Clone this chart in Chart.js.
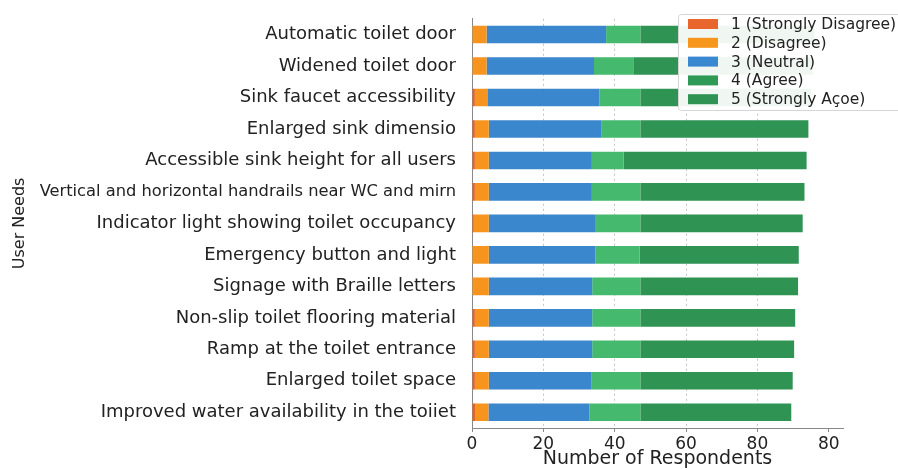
<!DOCTYPE html>
<html>
<head>
<meta charset="utf-8">
<script src="https://cdn.jsdelivr.net/npm/chart.js@4.4.1/dist/chart.umd.min.js"></script>
<style>
  html, body { margin: 0; padding: 0; background: #fff; }
  #wrap { width: 898px; height: 470px; }
</style>
</head>
<body>
<div id="wrap"><canvas id="needsChart" width="898" height="470"></canvas></div>
<script>
// === Data ===
const needs = [
  'Automatic toilet door',
  'Widened toilet door',
  'Sink faucet accessibility',
  'Enlarged sink dimensio',
  'Accessible sink height for all users',
  'Vertical and horizontal handrails near WC and mirn',
  'Indicator light showing toilet occupancy',
  'Emergency button and light',
  'Signage with Braille letters',
  'Non-slip toilet flooring material',
  'Ramp at the toilet entrance',
  'Enlarged toilet space',
  'Improved water availability in the toiiet'
];
const seriesNames = ['1 (Strongly Disagree)', '2 (Disagree)', '3 (Neutral)', '4 (Agree)', '5 (Strongly Açoe)'];

const stronglyDisagree = [0, 0, 0.8, 0.8, 0.8, 0.8, 0.5, 0, 0, 0.8, 0.8, 0.8, 1.0];
const disagree         = [4.1, 4.1, 3.5, 3.9, 3.9, 3.9, 4.2, 4.7, 4.7, 3.9, 3.9, 3.9, 3.6];
const neutral          = [33.5, 30.1, 31.4, 31.5, 28.9, 28.9, 30.0, 29.9, 29.0, 29.0, 29.0, 28.7, 28.3];
const agree            = [9.6, 11.2, 11.5, 11.0, 8.9, 13.6, 12.5, 12.4, 13.5, 13.5, 13.5, 13.8, 14.3];
const stronglyAgree    = [48.8, 50.1, 47.8, 47.1, 51.3, 46.0, 45.5, 44.6, 44.2, 43.4, 43.1, 42.7, 42.3];

const xTickLabels = ['0', '20', '40', '60', '80', '80'];

// === Styles ===
const barColors    = ['#e2622b', '#f7941e', '#3a87cd', '#45ba6e', '#2e9353'];
const legendColors = ['#e8652d', '#f7961c', '#3a88d0', '#2f9a55', '#2e9353'];
const FONT = "'DejaVu Sans', sans-serif";

const seriesValues = [stronglyDisagree, disagree, neutral, agree, stronglyAgree];

const datasets = seriesValues.map((vals, i) => ({
  label: seriesNames[i],
  data: vals,
  backgroundColor: barColors[i],
  borderWidth: 0,
  barPercentage: 0.56,
  categoryPercentage: 1
}));

// === Legend drawn inside the plot, top right ===
const boxLegend = {
  id: 'boxLegend',
  afterDraw(chart) {
    const c = chart.ctx;
    c.save();
    c.beginPath();
    c.roundRect(678.5, 14.5, 226, 96, 3);
    c.fillStyle = 'rgba(255,255,255,0.93)';
    c.fill();
    c.strokeStyle = '#d6d6d6';
    c.lineWidth = 1;
    c.stroke();
    c.font = '15.5px ' + FONT;
    c.textBaseline = 'middle';
    c.textAlign = 'left';
    chart.data.datasets.forEach((ds, i) => {
      const y = 24 + i * 18.8;
      c.fillStyle = legendColors[i];
      c.fillRect(688, y - 5, 30, 10);
      c.fillStyle = '#222';
      c.fillText(ds.label, 731, y + 1);
    });
    c.restore();
  }
};

new Chart(document.getElementById('needsChart'), {
  type: 'bar',
  data: { labels: needs, datasets },
  options: {
    indexAxis: 'y',
    responsive: false,
    animation: false,
    layout: { padding: { top: 10, right: 55, bottom: 0, left: 0 } },
    plugins: {
      legend: { display: false },
      tooltip: { enabled: false }
    },
    scales: {
      x: {
        stacked: true,
        min: 0,
        max: 104,
        afterFit: s => { s.height = 42; },
        afterBuildTicks: s => { s.ticks = s.ticks.filter(t => t.value % 20 === 0); },
        ticks: {
          stepSize: 20,
          includeBounds: false,
          maxRotation: 0,
          padding: 2,
          color: '#222',
          font: { family: FONT, size: 17 },
          callback: (v, i) => xTickLabels[i]
        },
        grid: {
          // no dotted line at the last tick, as in the reference
          color: c => (c.tick && c.tick.value >= 100 ? 'rgba(0,0,0,0)' : '#c4c4c4'),
          lineWidth: 1,
          tickLength: 4,
          tickColor: '#888'
        },
        border: { color: '#888', width: 1, dash: [2, 3] },
        title: {
          display: true,
          text: 'Number of Respondents',
          color: '#222',
          font: { family: FONT, size: 19 },
          padding: { top: 0, bottom: 0 }
        }
      },
      y: {
        stacked: true,
        afterFit: s => { s.width = 472; },
        ticks: {
          autoSkip: false,
          padding: 8,
          color: '#222',
          // the long handrail label is set tighter in the reference
          font: c => ({ family: FONT, size: c.index === 5 ? 16.3 : 18 })
        },
        grid: { display: false },
        border: { color: '#888', width: 1 },
        title: {
          display: true,
          text: 'User Needs',
          color: '#222',
          font: { family: FONT, size: 16 },
          padding: { top: 10, bottom: 0 }
        }
      }
    }
  },
  plugins: [boxLegend]
});
</script>
</body>
</html>
